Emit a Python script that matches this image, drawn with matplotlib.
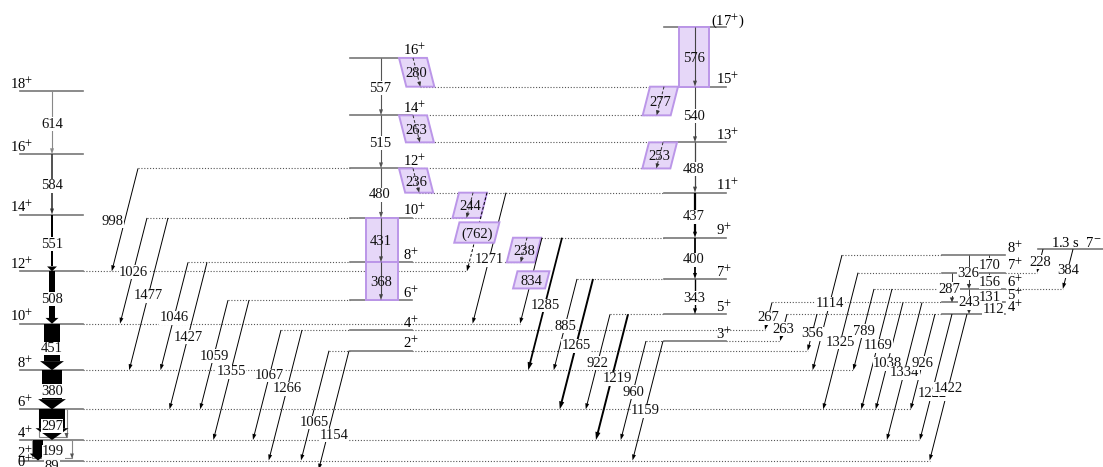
import numpy as np
import matplotlib.pyplot as plt
from matplotlib.patches import Polygon, Rectangle

plt.rcParams['font.family'] = ['Liberation Serif', 'DejaVu Serif']
plt.rcParams['mathtext.fontset'] = 'stix'

# level energies (keV) and spins of the bands
gsb_E = [0, 89, 288, 585, 965, 1416, 1924, 2475, 3059, 3673]
gsb_J = ['0', '2', '4', '6', '8', '10', '12', '14', '16', '18']
g2_E = [1154, 1355, 1644, 2011, 2442, 2922, 3437, 3994]
g2_J = ['2', '4', '6', '8', '10', '12', '14', '16']
odd_E = [1248, 1507, 1850, 2250, 2687, 3175, 3715, 4291]
odd_J = ['3', '5', '7', '9', '11', '13', '15', '(17']
g4_E = [1510, 1622, 1753, 1911, 2082]
g4_J = ['4', '5', '6', '7', '8']
iso_E = 2139

# ground band gamma rays and relative intensities
gsb_gam = ['89', '199', '297', '380', '451', '508', '551', '584', '614']
gsb_int = [0, 38, 100, 80, 65, 23, 11, 4, 2]

# in-band transitions (label, from, to)
g2_gam = [('557', 3994, 3437), ('515', 3437, 2922), ('480', 2922, 2442),
          ('431', 2442, 2011), ('368', 2011, 1644)]
odd_gam = [('576', 4291, 3715), ('540', 3715, 3175), ('488', 3175, 2687),
           ('437', 2687, 2250), ('400', 2250, 1850), ('343', 1850, 1507)]
g4_gam = [('326', 2082, 1753), ('170', 2082, 1911), ('156', 1911, 1753),
          ('287', 1911, 1622), ('131', 1753, 1622), ('243', 1753, 1510),
          ('112', 1622, 1510)]

# out-of-band transitions (label, from, to)
link = [('998', 2922, 1924), ('1026', 2442, 1416), ('1477', 2442, 965),
        ('1046', 2011, 965), ('1427', 2011, 585), ('1059', 1644, 585),
        ('1355', 1644, 288), ('1067', 1355, 288), ('1266', 1355, 89),
        ('1065', 1154, 89), ('1154', 1154, 0),
        ('(762)', 2687, 1924), ('1271', 2687, 1416), ('834', 2250, 1416),
        ('1285', 2250, 965), ('885', 1850, 965), ('1265', 1850, 585),
        ('922', 1507, 585), ('1219', 1507, 288), ('960', 1248, 288),
        ('1159', 1248, 89),
        ('1114', 2082, 965), ('1325', 1911, 585), ('789', 1753, 965),
        ('1169', 1753, 585), ('267', 1622, 1355), ('1038', 1622, 585),
        ('1334', 1622, 288), ('263', 1510, 1248), ('356', 1510, 1154),
        ('926', 1510, 585), ('1222', 1510, 288), ('1422', 1510, 89),
        ('228', iso_E, 1911), ('384', iso_E, 1753)]

# inter-band transitions between the even and odd sequences
m1 = [('280', 3994, 3715), ('263', 3437, 3175), ('236', 2922, 2687),
      ('277', 3715, 3437), ('253', 3175, 2922), ('244', 2687, 2442),
      ('238', 2250, 2011)]

# ---------------- layout ----------------
FS = 10.5
K = 467 / (4555.8 - 26.2)     # pixels per keV
S = 0.255                     # slant of the tilted arrows
PURPLE_F = '#e6d7f8'
PURPLE_E = '#bb96e8'

link_x = {'998': 138, '1026': 147, '1477': 168, '1046': 188, '1427': 207,
          '1059': 228, '1355': 249, '1067': 281, '1266': 302, '1065': 329,
          '1154': 349, '(762)': 487, '1271': 506, '834': 542, '1285': 562,
          '885': 577, '1265': 593, '922': 610, '1219': 628, '960': 646,
          '1159': 663, '1114': 842, '1325': 858, '789': 874, '1169': 892,
          '267': 772, '1038': 903, '1334': 922, '263': 787, '356': 817,
          '926': 935, '1222': 952, '1422': 967, '228': 1043, '384': 1073}
link_lw = {'1285': 1.3, '1265': 1.4, '1219': 1.4}
link_frac = {'1067': 0.4, '1266': 0.44, '1065': 0.64, '1154': 0.7,
             '1114': 0.41, '1159': 0.57, '1222': 0.62, '1038': 0.56,
             '1169': 0.46}
link_dx = {'998': -12, '1065': 3, '1154': 6, '1219': 5}
link_box = {'(762)': (0.377, 0.636, 20), '834': (0.39, 0.59, 16)}
m1_x = {'280': 413, '263': 413, '236': 413, '277': 664, '253': 663,
        '244': 473, '238': 527}
m1_dir = {'280': 1, '263': 1, '236': 1}

bands = [(gsb_E, gsb_J, 20, 83), (g2_E, g2_J, 350, 412),
         (odd_E, odd_J, 664, 726), (g4_E, g4_J, 942, 1005),
         ([iso_E], ['7'], 1038, 1103)]

fig = plt.figure(figsize=(11.03, 4.67), dpi=100)
ax = fig.add_axes([0, 0, 1, 1])
ax.set_xlim(0, 1103)
ax.set_ylim(26.2, 4555.8)
ax.axis('off')


def head(x0, e0, x1, e1, L=6.0, W=2.0, c='k'):
    p0 = np.array([x0, e0 * K]); p1 = np.array([x1, e1 * K])
    u = (p1 - p0) / np.linalg.norm(p1 - p0)
    n = np.array([-u[1], u[0]])
    b = p1 - u * L
    pts = [p1, b + n * W, b - n * W]
    ax.add_patch(Polygon([(p[0], p[1] / K) for p in pts], closed=True,
                         fc=c, ec='none', zorder=6))


def gamma(x0, e0, x1, e1, lw=0.7, c='k', ls='-', L=6, W=2.0):
    p0 = np.array([x0, e0 * K]); p1 = np.array([x1, e1 * K])
    u = (p1 - p0) / np.linalg.norm(p1 - p0)
    b = p1 - u * (L * 0.7)
    ax.plot([x0, b[0]], [e0, b[1] / K], lw=lw, color=c, ls=ls, zorder=5,
            solid_capstyle='butt')
    head(x0, e0, x1, e1, L, W, c)


def label(x, e, s, bg=True, **kw):
    bb = dict(fc='white', ec='none', pad=0.3) if bg else None
    ax.text(x, e, s, ha='center', va='center_baseline', fontsize=FS,
            zorder=7, bbox=bb, color='#111', **kw)


def slanted(x0, e0, x1, e1, hw, z=3):
    pts = [(x0 - hw, e0), (x0 + hw, e0), (x1 + hw, e1), (x1 - hw, e1)]
    ax.add_patch(Polygon(pts, closed=True, fc=PURPLE_F, ec=PURPLE_E,
                         lw=1.4, zorder=z))


# level extents, and collect endpoints of transitions
lev = {}
for Es, Js, xl, xr in bands:
    for e in Es:
        lev[e] = [xl, xr, xl, xr]


def touch(x, e):
    lev[e][2] = min(lev[e][2], x)
    lev[e][3] = max(lev[e][3], x)


link_geo = {}
for lab, ei, ef in link:
    x0 = link_x[lab]
    x1 = x0 - S * (ei - ef) * K
    link_geo[lab] = (x0, ei, x1, ef)
    touch(x0, ei); touch(x1, ef)

m1_geo = {}
for lab, ei, ef in m1:
    x0 = m1_x[lab]
    x1 = x0 + m1_dir.get(lab, -1) * S * (ei - ef) * K
    m1_geo[lab] = (x0, ei, x1, ef)
    touch(x0, ei); touch(x1, ef)

# levels and dotted extensions
for e, (xl, xr, a, b) in lev.items():
    ax.plot([xl, xr], [e, e], color='#777', lw=1.2, zorder=2)
    if a < xl:
        ax.plot([a, xl], [e, e], color='#555', lw=0.8, ls=(0, (1, 1.6)), zorder=1)
    if b > xr:
        ax.plot([xr, b], [e, e], color='#555', lw=0.8, ls=(0, (1, 1.6)), zorder=1)

# spin labels
up = 2.5 / K
for e, j in zip(gsb_E, gsb_J):
    ax.text(33, e + up, j + '$^{+}$', ha='right', va='baseline', fontsize=FS)
for e, j in zip(g2_E, g2_J):
    ax.text(403, e + up, j + '$^{+}$', ha='left', va='baseline', fontsize=FS)
for e, j in zip(odd_E, odd_J):
    if j.startswith('('):
        ax.text(711, e + up, j + '$^{+}$)', ha='left', va='baseline', fontsize=FS)
    else:
        ax.text(716, e + up, j + '$^{+}$', ha='left', va='baseline', fontsize=FS)
for e, j in zip(g4_E, g4_J):
    ax.text(1007, e + up, j + '$^{+}$', ha='left', va='baseline', fontsize=FS,
            zorder=8)
ax.text(1102, iso_E + up, '1.3 s  7$^{-}$', ha='right', va='baseline', fontsize=FS)

# ground band: widths follow intensity
XC = 52
gsb_xc = {'199': 38}
gsb_conv = {'297': (38.5, 28), '199': (32, 40)}
for i, lab in enumerate(gsb_gam):
    e0, e1 = gsb_E[i + 1], gsb_E[i]
    xc = gsb_xc.get(lab, XC)
    w = 0.26 * gsb_int[i]
    if lab in gsb_conv:
        xl, wt = gsb_conv[lab]
        ax.add_patch(Rectangle((xl, e1 + 3 / K), wt, e0 - e1 - 3 / K, fc='none',
                               ec='#888', lw=0.8, zorder=4))
        head(xl + wt, e1 + 8 / K, xl + wt, e1 + 2 / K, L=5, W=2, c='#555')
    if lab == '89':
        pass
    elif w < 2.5:
        c = '#888' if gsb_int[i] < 3 else '#333'
        gamma(xc, e0, xc, e1, lw=0.8 if gsb_int[i] < 3 else 1.2, c=c)
    else:
        hw = w / 2 + 3.5
        hl = 4 + 0.3 * w
        y0, y1 = e0 * K, e1 * K
        yb = y1 + hl
        shaft = [(xc - w / 2, y0), (xc + w / 2, y0), (xc + w / 2, yb), (xc - w / 2, yb)]
        tip = [(xc - hw, yb), (xc + hw, yb), (xc, y1)]
        for pts in (shaft, tip):
            ax.add_patch(Polygon([(a, b / K) for a, b in pts], closed=True,
                                 fc='k', ec='none', zorder=5))
    lx = 53 if lab == '199' else XC
    label(lx, (e0 + e1) / 2, lab)

# side band (even) vertical transitions
for lab, ei, ef in g2_gam:
    if lab in ('431', '368'):
        ax.add_patch(Rectangle((366, ef), 32, ei - ef, fc=PURPLE_F, ec=PURPLE_E,
                               lw=1.4, zorder=3))
        gamma(381, ei, 381, ef, lw=0.8, c='#444')
        label(381, (ei + ef) / 2, lab, bg=False)
    else:
        gamma(381, ei, 381, ef, lw=0.8, c='#555')
        label(380, (ei + ef) / 2, lab)

# odd band vertical transitions
odd_lw = {'576': 0.8, '540': 0.8, '488': 0.9, '437': 1.6, '400': 1.3, '343': 1.0}
for lab, ei, ef in odd_gam:
    c = '#444' if odd_lw[lab] < 1 else 'k'
    if lab == '576':
        ax.add_patch(Rectangle((679, ef), 30, ei - ef, fc=PURPLE_F, ec=PURPLE_E,
                               lw=1.4, zorder=3))
        gamma(695, ei, 695, ef, lw=0.8, c='#444')
        label(694, (ei + ef) / 2, lab, bg=False)
    else:
        gamma(695, ei, 695, ef, lw=odd_lw[lab], c=c)
        label(694, (ei + ef) / 2, lab)

# band on the right
g4_x = {'326': 969, '170': 989, '156': 989, '287': 952, '131': 989,
        '243': 969, '112': 989}
g4_lx = {'287': -4, '243': -1, '112': 3, '326': -2}
for lab, ei, ef in g4_gam:
    x = g4_x[lab]
    gamma(x, ei, x, ef, lw=0.7, c='#333', L=5, W=2.2)
    label(x + 1 + g4_lx.get(lab, 0), (ei + ef) / 2, lab)

# tilted transitions
for lab, ei, ef in link:
    x0, e0, x1, e1 = link_geo[lab]
    lw = link_lw.get(lab, 0.7)
    big = lw > 1
    ls = (0, (3, 2)) if lab == '(762)' else '-'
    gamma(x0, e0, x1, e1, lw=lw, c='k', ls=ls, L=8 if big else 6,
          W=2.6 if big else 2.0)
    f = link_frac.get(lab, 0.5)
    xm = x0 + f * (x1 - x0)
    em = e0 + f * (e1 - e0)
    if lab in link_box:
        fa, fb, hw = link_box[lab]
        slanted(x0 + fa * (x1 - x0), e0 + fa * (e1 - e0),
                x0 + fb * (x1 - x0), e0 + fb * (e1 - e0), hw, z=6)
        fm = (fa + fb) / 2
        label(x0 + fm * (x1 - x0), e0 + fm * (e1 - e0), lab, bg=False)
    else:
        label(xm + link_dx.get(lab, 0), em, lab)

for lab, ei, ef in m1:
    x0, e0, x1, e1 = m1_geo[lab]
    slanted(x0, e0, x1, e1, 14)
    gamma(x0, e0, x1, e1, lw=0.7, c='#333', ls=(0, (3, 2)), L=5, W=2.0)
    label((x0 + x1) / 2, (e0 + e1) / 2, lab, bg=False)

fig.savefig('out.png', dpi=100)
